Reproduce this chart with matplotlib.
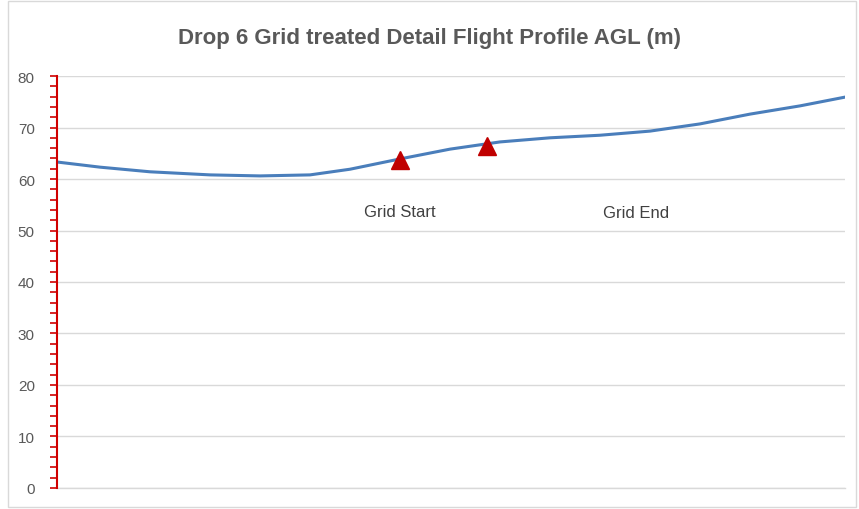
import matplotlib.pyplot as plt
from matplotlib.patches import Rectangle
from matplotlib.ticker import MultipleLocator

plt.rcParams['font.family'] = ['Liberation Sans', 'DejaVu Sans']

# flight profile (distance along track, height above ground in m)
distance = [0, 43, 93, 153, 203, 253, 293, 343, 393, 443, 493, 543, 593, 643, 693, 743, 788]
agl = [63.3, 62.3, 61.4, 60.8, 60.6, 60.8, 61.9, 63.9, 65.8, 67.2, 68.0, 68.5, 69.3, 70.7, 72.6, 74.2, 75.9]

# grid start / end markers and labels
marker_x = [343, 430]
marker_y = [63.7, 66.4]
label_text = ["Grid Start", "Grid End"]
label_x = [343, 579]
label_y = [53.6, 53.4]

fig = plt.figure(figsize=(8.59, 5.10), dpi=100)
fig.patches.append(Rectangle((0.009, 0.004), 0.988, 0.992, transform=fig.transFigure,
                             fill=False, edgecolor="#D9D9D9", linewidth=1))
ax = fig.add_axes([0.0664, 0.0412, 0.9173, 0.8078])

ax.plot(distance, agl, color="#4A7EBB", linewidth=2.2, zorder=3)
ax.plot(marker_x, marker_y, linestyle="none", marker="^", markersize=12.5,
        color="#C00000", zorder=4)
for t, x, y in zip(label_text, label_x, label_y):
    ax.text(x, y, t, ha="center", va="center", fontsize=12, color="#404040")

ax.set_xlim(0, 788)
ax.set_ylim(0, 80)
ax.yaxis.set_major_locator(MultipleLocator(10))
ax.yaxis.set_minor_locator(MultipleLocator(2))
ax.set_xticks([])
ax.grid(axis="y", color="#D9D9D9", linewidth=1)
ax.axhline(0, color="#D9D9D9", linewidth=1, clip_on=False, zorder=0)
ax.set_axisbelow(True)
for s in ["top", "right", "bottom"]:
    ax.spines[s].set_visible(False)
ax.spines["left"].set_color("#D00000")
ax.spines["left"].set_linewidth(1.5)
ax.spines["left"].set_zorder(5)
ax.tick_params(axis="y", which="both", direction="out", length=5, width=1.2,
               color="#D00000", labelcolor="#595959", labelsize=11, pad=11)

fig.text(0.5, 0.925, "Drop 6 Grid treated Detail Flight Profile AGL (m)",
         ha="center", va="center", fontsize=16, fontweight="bold", color="#595959")

fig.savefig("out.png", dpi=100)
